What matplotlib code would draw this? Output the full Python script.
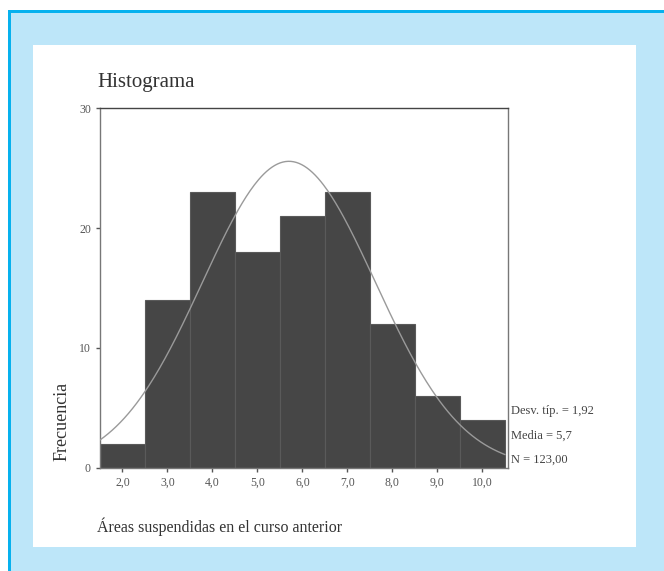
import numpy as np
import matplotlib
matplotlib.use("Agg")
import matplotlib.pyplot as plt
from matplotlib.patches import Rectangle

# histogram data
bin_centers = [2, 3, 4, 5, 6, 7, 8, 9, 10]
counts = [2, 14, 23, 18, 21, 23, 12, 6, 4]
tick_labels = ["2,0", "3,0", "4,0", "5,0", "6,0", "7,0", "8,0", "9,0", "10,0"]
y_ticks = [0, 10, 20, 30]

std_dev = 1.92
mean = 5.7
n_total = 123.0

plt.rcParams['font.family'] = ['Liberation Serif', 'DejaVu Serif']

W, H = 664, 571
fig = plt.figure(figsize=(W / 100, H / 100), dpi=100)
fig.patch.set_facecolor("white")

def fx(px):
    return px / W

def fy(py):
    return 1 - py / H

# light blue frame with darker border on top/left
fig.add_artist(Rectangle((fx(8), 0), fx(W - 8), fy(10), transform=fig.transFigure,
                         facecolor="#bde6f9", edgecolor="none", zorder=0))
fig.add_artist(Rectangle((fx(8), 0), fx(3), fy(10), transform=fig.transFigure,
                         facecolor="#06b1ee", edgecolor="none", zorder=0))
fig.add_artist(Rectangle((fx(8), fy(13)), fx(W - 8), 3 / H, transform=fig.transFigure,
                         facecolor="#06b1ee", edgecolor="none", zorder=0))
# white panel
fig.add_artist(Rectangle((fx(33), fy(547)), fx(636 - 33), (547 - 45) / H, transform=fig.transFigure,
                         facecolor="white", edgecolor="none", zorder=0))

ax = fig.add_axes([fx(100), fy(468), fx(508 - 100), (468 - 108) / H])
ax.set_facecolor("none")

ax.bar(bin_centers, counts, width=1.0, color="#464646", edgecolor="#5a5a5a", linewidth=0.8, zorder=2)

xs = np.linspace(1.5, 10.5, 300)
curve = n_total / (std_dev * np.sqrt(2 * np.pi)) * np.exp(-0.5 * ((xs - mean) / std_dev) ** 2)
ax.plot(xs, curve, color="#9a9a9a", linewidth=1.0, zorder=3)

ax.set_xlim(1.5, 10.57)
ax.set_ylim(0, 30)
ax.set_xticks(bin_centers)
ax.set_xticklabels(tick_labels)
ax.set_yticks(y_ticks)
ax.tick_params(axis="both", labelsize=8.5, colors="#555555", length=3, width=1)
for sp in ax.spines.values():
    sp.set_color("#777777")
    sp.set_linewidth(1.0)
ax.spines["top"].set_color("#444444")

fig.text(fx(97), fy(82), "Histograma", fontsize=15, color="#333333", va="center", ha="left")
fig.text(fx(62), fy(421), "Frecuencia", fontsize=13, color="#333333", rotation=90,
         va="center", ha="center")
fig.text(fx(97), fy(527), "Áreas suspendidas en el curso anterior", fontsize=11.5,
         color="#333333", va="center", ha="left")

stats = ["Desv. típ. = 1,92", "Media = 5,7", "N = 123,00"]
for i, s in enumerate(stats):
    fig.text(fx(511), fy(411 + 24.5 * i), s, fontsize=9, color="#444444", va="center", ha="left")

fig.savefig("out.png", dpi=100)
